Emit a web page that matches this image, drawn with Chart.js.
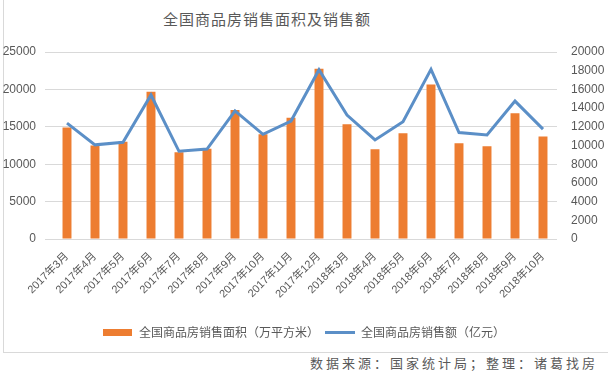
<!DOCTYPE html>
<html lang="zh">
<head>
    <meta charset="UTF-8">
    <title>全国商品房销售面积及销售额</title>
    <script src="https://cdn.jsdelivr.net/npm/chart.js@4.4.0/dist/chart.umd.min.js"></script>
    <style>
        body { margin: 0; background: #fff; width: 608px; height: 372px; overflow: hidden; position: relative; font-family: "Noto Sans CJK SC", sans-serif; }
        #frame { position: absolute; left: 3px; top: 0; width: 605px; height: 353px; border-left: 1px solid #d9d9d9; border-bottom: 1px solid #d9d9d9; box-sizing: border-box; }
        #chartBox { position: absolute; left: 0; top: 0; width: 608px; height: 352px; }
        #title { position: absolute; top: 8px; left: 163px; font-size: 15px; color: #595959; letter-spacing: 1px; }
        #source { position: absolute; top: 353px; right: 10px; font-size: 13px; color: #595959; letter-spacing: 3px; line-height: 19px; }
    </style>
</head>
<body>
    <div id="frame"></div>
    <div id="title">全国商品房销售面积及销售额</div>
    <div id="chartBox"><canvas id="chart"></canvas></div>
    <div id="source">数据来源：国家统计局；整理：诸葛找房</div>

    <script>
        // 月份
        const months = ['2017年3月', '2017年4月', '2017年5月', '2017年6月', '2017年7月', '2017年8月', '2017年9月',
            '2017年10月', '2017年11月', '2017年12月', '2018年3月', '2018年4月', '2018年5月', '2018年6月',
            '2018年7月', '2018年8月', '2018年9月', '2018年10月'];
        // 销售面积（万平方米）
        const salesArea = [14900, 12500, 13000, 19700, 11600, 12050, 17250, 14000, 16200, 22750,
            15350, 12000, 14150, 20650, 12800, 12400, 16800, 13700];
        // 销售额（亿元）
        const salesAmount = [12400, 10070, 10350, 15400, 9380, 9620, 13700, 11200, 12620, 18100,
            13250, 10600, 12550, 18150, 11380, 11130, 14750, 11750];

        const orange = '#ED7D31';
        const blue = '#5B8FC7';
        const tickColor = '#595959';

        function swatch(w, h, color) {
            const c = document.createElement('canvas');
            c.width = w; c.height = h;
            const g = c.getContext('2d');
            g.fillStyle = color;
            g.fillRect(0, 0, w, h);
            return c;
        }

        const plain = v => String(v);

        const chart = new Chart(document.getElementById('chart'), {
            data: {
                labels: months,
                datasets: [{
                    type: 'bar',
                    label: '全国商品房销售面积（万平方米）',
                    data: salesArea,
                    backgroundColor: orange,
                    yAxisID: 'y',
                    order: 1,
                    barPercentage: 0.32,
                    categoryPercentage: 1
                }, {
                    type: 'line',
                    label: '全国商品房销售额（亿元）',
                    data: salesAmount,
                    borderColor: blue,
                    backgroundColor: blue,
                    borderWidth: 3,
                    pointRadius: 0,
                    tension: 0,
                    yAxisID: 'y1',
                    order: 0
                }]
            },
            options: {
                responsive: true,
                maintainAspectRatio: false,
                animation: false,
                layout: { padding: { top: 52, bottom: 4, left: 0, right: 0 } },
                plugins: {
                    tooltip: { enabled: false },
                    legend: {
                        position: 'bottom',
                        labels: {
                            usePointStyle: true,
                            pointStyleWidth: 30,
                            boxHeight: 8,
                            padding: 6,
                            color: tickColor,
                            font: { family: '"Noto Sans CJK SC"', size: 12 },
                            generateLabels: function(c) {
                                return [
                                    { text: c.data.datasets[0].label, datasetIndex: 0, pointStyle: swatch(29, 7, orange), fontColor: tickColor, lineWidth: 0 },
                                    { text: c.data.datasets[1].label, datasetIndex: 1, pointStyle: swatch(30, 3, blue), fontColor: tickColor, lineWidth: 0 }
                                ];
                            }
                        }
                    }
                },
                scales: {
                    x: {
                        grid: { display: false },
                        border: { display: false },
                        ticks: {
                            color: tickColor,
                            minRotation: 45,
                            maxRotation: 45,
                            autoSkip: false,
                            padding: 3,
                            font: { family: '"Liberation Sans", "Noto Sans CJK SC"', size: 11 }
                        },
                        afterFit: function(s) { s.height = 81; }
                    },
                    y: {
                        position: 'left',
                        min: 0,
                        max: 25000,
                        grid: { color: '#d9d9d9' },
                        border: { display: false },
                        ticks: {
                            stepSize: 5000,
                            color: tickColor,
                            padding: 9,
                            callback: plain,
                            font: { family: '"Liberation Sans"', size: 12 }
                        },
                        afterFit: function(s) { s.width = 53; }
                    },
                    y1: {
                        position: 'right',
                        min: 0,
                        max: 20000,
                        grid: { display: false },
                        border: { display: false },
                        ticks: {
                            stepSize: 2000,
                            color: tickColor,
                            padding: 6,
                            callback: plain,
                            font: { family: '"Liberation Sans"', size: 12 }
                        },
                        afterFit: function(s) { s.width = 51; }
                    }
                }
            }
        });
    </script>
</body>
</html>
